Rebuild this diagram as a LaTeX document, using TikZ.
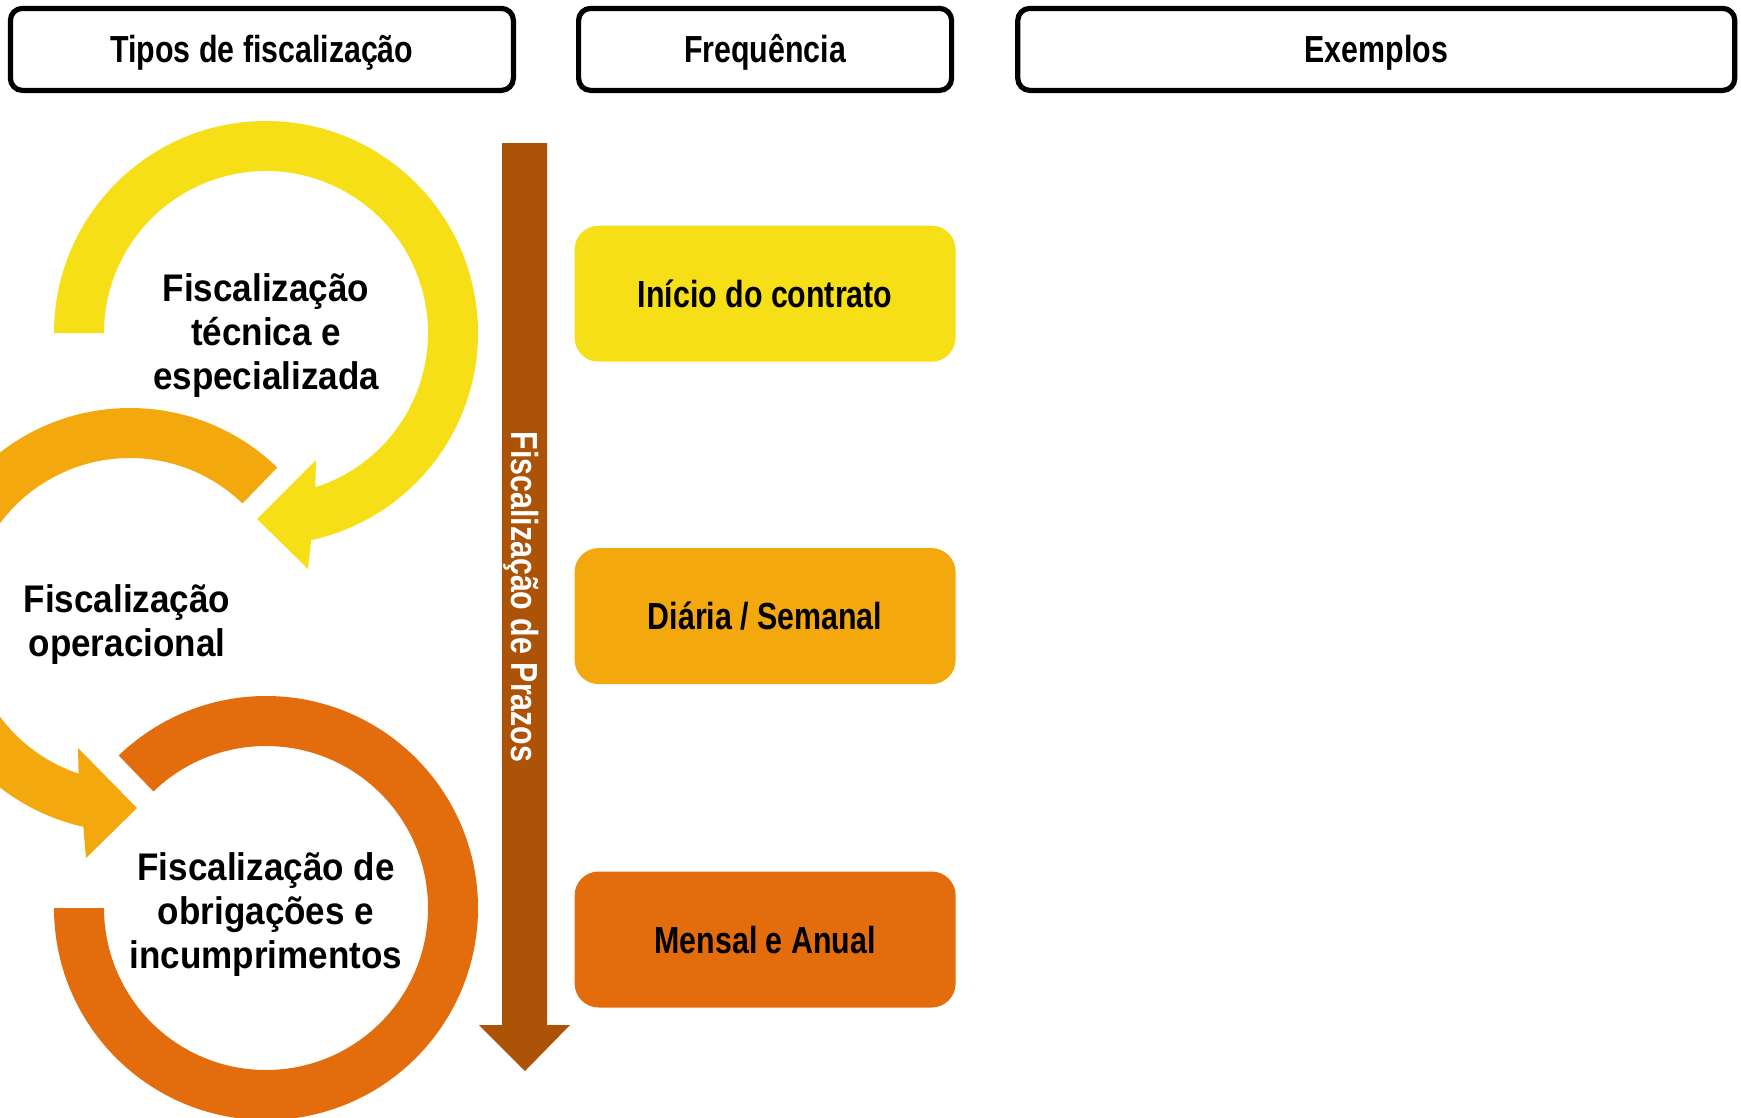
\documentclass[tikz,border=0pt]{standalone}
\usepackage{fontspec}
\setmainfont{Liberation Sans}
\newfontfamily\narrowfont{Liberation Sans}[FakeStretch=0.805]
\newfontfamily\circlefont{Liberation Sans}[FakeStretch=0.91]
\usepackage{xcolor}
\usetikzlibrary{positioning}

\definecolor{cycleyellow}{HTML}{F6DF16}
\definecolor{cycleorange}{HTML}{F3A80E}
\definecolor{cycledark}{HTML}{E36C0C}
\definecolor{arrowbrown}{HTML}{AC5307}

\begin{document}
\begin{tikzpicture}[
			x=1pt, y=-1pt,
			header/.style={
				draw,
				line width=5.2pt,
				rounded corners=12pt,
				minimum height=82pt,
				text height=27pt,
				text depth=0pt,
				font=\narrowfont\bfseries\fontsize{37.7pt}{44pt}\selectfont
			},
			period/.style={
				rounded corners=24pt,
				minimum width=381pt,
				minimum height=136pt,
				text height=27pt,
				text depth=0pt,
				font=\narrowfont\bfseries\fontsize{37.7pt}{44pt}\selectfont
			},
			cycletext/.style={
				align=center,
				font=\circlefont\bfseries\fontsize{38.5pt}{44pt}\selectfont
			}
			]
			\clip (0,0) rectangle (1741,1117);
			% cycle arrows
			\begin{scope}[shift={(266,333)}]
				\fill[cycleyellow] (180:162) -- (180:212) arc[start angle=180, end angle=437.7, radius=212]
					-- (42,236) -- (-9,186) -- (50,127) -- (432.3:162) arc[start angle=432.3, end angle=180, radius=162] -- cycle;
			\end{scope}
			\begin{scope}[shift={(130,620)}]
				\fill[cycleorange] (314:162) -- (314:212) arc[start angle=314, end angle=102.7, radius=212]
					-- (-44,238) -- (7,188) -- (-52,128) -- (108.5:162) arc[start angle=108.5, end angle=314, radius=162] -- cycle;
			\end{scope}
			\begin{scope}[shift={(266,908)}]
				\fill[cycledark] (180:162) -- (180:212) arc[start angle=180, end angle=-134, radius=212]
					-- (-134:162) arc[start angle=-134, end angle=180, radius=162] -- cycle;
			\end{scope}
			\node[cycletext] (tecnica) at (266,336) {Fiscalização\\técnica e\\especializada};
			\node[cycletext] (operacional) at (127,625) {Fiscalização\\operacional};
			\node[cycletext] (obrigacoes) at (266,915) {Fiscalização de\\obrigações e\\incumprimentos};
			% time arrow
			\fill[arrowbrown] (502,143) -- (547,143) -- (547,1025) -- (570,1025) -- (525,1071) -- (479,1025) -- (502,1025) -- cycle;
			\node[text=white, rotate=-90, text height=27pt, text depth=0pt,
				font=\narrowfont\bfseries\fontsize{37.7pt}{44pt}\selectfont] (prazos) at (524.5,597) {Fiscalização de Prazos};
			% headers
			\node[header, minimum width=503pt] (tipos) at (261.9,49.4) {Tipos de fiscalização};
			\node[header, minimum width=373pt, right=60pt of tipos] (frequencia) {Frequência};
			\node[header, minimum width=717pt, right=61pt of frequencia] (exemplos) {Exemplos};
			% periods
			\node[period, fill=cycleyellow, below=132.5pt of frequencia] (inicio) {Início do contrato};
			\node[period, fill=cycleorange, below=186pt of inicio] (diaria) {Diária / Semanal};
			\node[period, fill=cycledark, below=187pt of diaria] (mensal) {Mensal e Anual};
		\end{tikzpicture}
\end{document}
